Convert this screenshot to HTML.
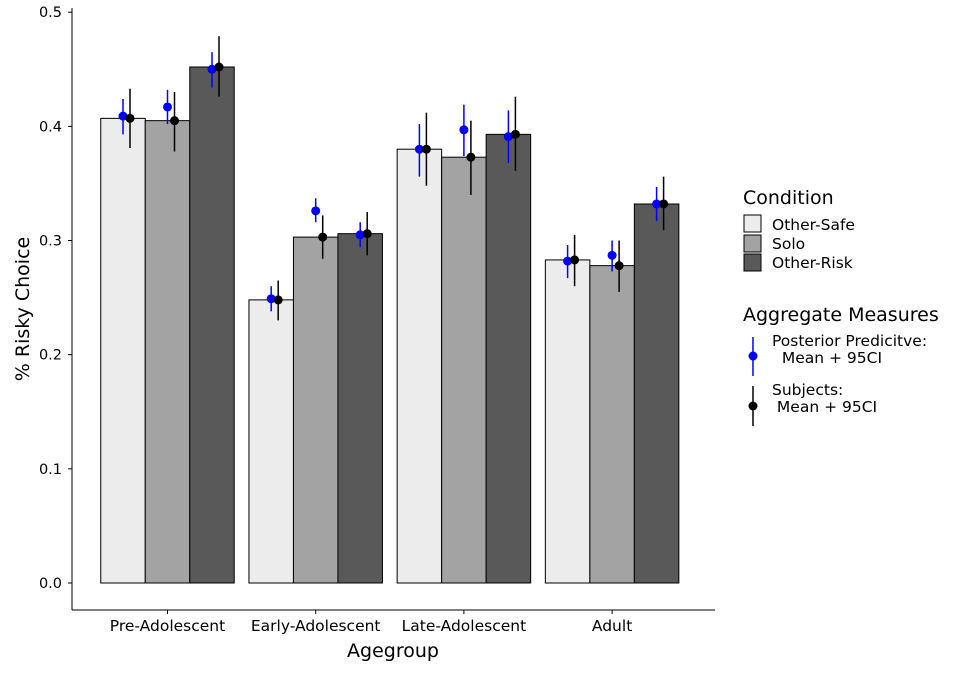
<!DOCTYPE html>
<html><head><meta charset="utf-8"><style>
body{margin:0;background:#fff;}
svg text{font-family:"DejaVu Sans","Liberation Sans",sans-serif;fill:#000;}
</style></head><body>
<svg id="chart" width="960" height="672" xmlns="http://www.w3.org/2000/svg">
<g id="plot"></g>
<g>
<text x="743" y="204" font-size="19">Condition</text>
<rect x="744" y="215" width="17" height="17" fill="#ececec" stroke="#000"/>
<text x="772" y="230" font-size="15.5">Other-Safe</text>
<rect x="744" y="235" width="17" height="17" fill="#a3a3a3" stroke="#000"/>
<text x="772" y="249" font-size="15.5">Solo</text>
<rect x="744" y="254" width="17" height="17" fill="#595959" stroke="#000"/>
<text x="772" y="268" font-size="15.5">Other-Risk</text>
<text x="743" y="321" font-size="19">Aggregate Measures</text>
<line x1="753" y1="337" x2="753" y2="376" stroke="blue" stroke-width="1.5"/>
<circle cx="753" cy="356" r="4.5" fill="blue"/>
<text x="772" y="346" font-size="15.5">Posterior Predicitve:</text>
<text x="772" y="363" font-size="15.5" xml:space="preserve">  Mean + 95CI</text>
<line x1="753" y1="386" x2="753" y2="426" stroke="#000" stroke-width="1.5"/>
<circle cx="753" cy="406" r="4.5" fill="#000"/>
<text x="772" y="395" font-size="15.5">Subjects:</text>
<text x="772" y="412" font-size="15.5" xml:space="preserve"> Mean + 95CI</text>
</g>
</svg>
<script>
const groups=["Pre-Adolescent","Early-Adolescent","Late-Adolescent","Adult"];
const conditions=["Other-Safe","Solo","Other-Risk"];
const barValues=[[0.407,0.405,0.452],[0.248,0.303,0.306],[0.380,0.373,0.393],[0.283,0.278,0.332]];
const postMean=[[0.409,0.417,0.450],[0.249,0.326,0.305],[0.380,0.397,0.391],[0.282,0.287,0.332]];
const postLo=[[0.393,0.402,0.434],[0.238,0.316,0.294],[0.356,0.374,0.368],[0.267,0.273,0.317]];
const postHi=[[0.424,0.432,0.465],[0.260,0.337,0.316],[0.402,0.419,0.414],[0.296,0.300,0.347]];
const subjMean=[[0.407,0.405,0.452],[0.248,0.303,0.306],[0.380,0.373,0.393],[0.283,0.278,0.332]];
const subjLo=[[0.381,0.378,0.426],[0.230,0.284,0.287],[0.348,0.340,0.361],[0.260,0.255,0.309]];
const subjHi=[[0.433,0.430,0.479],[0.265,0.322,0.325],[0.412,0.405,0.426],[0.305,0.300,0.356]];
const yTicks=[0,0.1,0.2,0.3,0.4,0.5];
const yTickLabels=["0.0","0.1","0.2","0.3","0.4","0.5"];
const colors=["#ececec","#a3a3a3","#595959"];
const NS="http://www.w3.org/2000/svg";
const g=document.getElementById('plot');
const y=v=>583-v*1141.6;
const gx=i=>167.5+i*148.2;
const bw=44.5;
const bx=(i,j)=>gx(i)+(j-1.5)*bw;
function mk(t,a){const e=document.createElementNS(NS,t);for(const k in a)e.setAttribute(k,a[k]);g.appendChild(e);return e;}
let e=mk('line',{x1:72,y1:8,x2:72,y2:610,stroke:'#000','stroke-width':1});


e=mk('line',{x1:72,y1:610,x2:715,y2:610,stroke:'#000','stroke-width':1});


yTicks.forEach((v,k)=>{
 mk('line',{x1:68,x2:72,y1:y(v),y2:y(v),stroke:'#000'});
 const t=mk('text',{x:62,y:y(v)+5,'font-size':14.5,'text-anchor':'end'});t.textContent=yTickLabels[k];
 
 
});
groups.forEach((name,i)=>{
 mk('line',{x1:gx(i),x2:gx(i),y1:610,y2:614,stroke:'#000'});
 const t=mk('text',{x:gx(i),y:631,'font-size':15.5,'text-anchor':'middle'});t.textContent=name;
 
 
 conditions.forEach((c,j)=>{
  const r=mk('rect',{x:bx(i,j),y:y(barValues[i][j]),width:bw,height:y(0)-y(barValues[i][j]),fill:colors[j],stroke:'#000','stroke-width':1});
  
  
 });
 conditions.forEach((c,j)=>{
  const cx=bx(i,j)+bw/2;
  mk('line',{x1:cx,x2:cx,y1:y(postLo[i][j]),y2:y(postHi[i][j]),stroke:'blue','stroke-width':1.5});
  const p=mk('circle',{cx:cx,cy:y(postMean[i][j]),r:4.5,fill:'blue'});
  
  
  const sx=cx+7;
  mk('line',{x1:sx,x2:sx,y1:y(subjLo[i][j]),y2:y(subjHi[i][j]),stroke:'#000','stroke-width':1.5});
  const s=mk('circle',{cx:sx,cy:y(subjMean[i][j]),r:4.5,fill:'#000'});
  
  
 });
});
let t=mk('text',{x:393,y:657,'font-size':19,'text-anchor':'middle'});t.textContent='Agegroup';


t=mk('text',{x:0,y:0,'font-size':19,'text-anchor':'middle',transform:'translate(29,309) rotate(-90)'});t.textContent='% Risky Choice';


</script>
</body></html>
